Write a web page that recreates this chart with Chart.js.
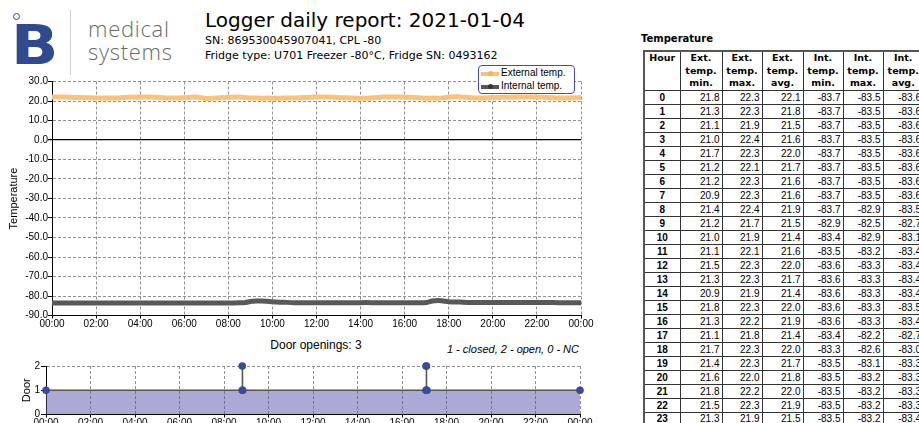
<!DOCTYPE html>
<html>
<head>
<meta charset="utf-8">
<script src="https://cdn.jsdelivr.net/npm/chart.js@4.4.1/dist/chart.umd.min.js"></script>
<style>
html, body { margin: 0; padding: 0; background: #fff; }
body { width: 919px; height: 423px; overflow: hidden; position: relative; font-family: 'Liberation Sans', Arial, sans-serif; }
.abs { position: absolute; white-space: nowrap; line-height: 1; }
#logoB { left: 10.7px; top: 17px; font-family: 'DejaVu Sans', sans-serif; font-weight: bold; font-size: 56px; color: #2f4a8e; transform: scaleX(1.11); transform-origin: left top; }
#logoDot { position: absolute; left: 13px; top: 13px; width: 5px; height: 5px; border: 1.4px solid #2f4a8e; border-radius: 50%; }
#logoSep { position: absolute; left: 70px; top: 10px; width: 1px; height: 65px; background: #cfcfcf; }
.brand { left: 88px; font-family: 'Open Sans', sans-serif; font-weight: 300; font-size: 22px; letter-spacing: 0.7px; color: #6a6a6a; }
#title { left: 205px; top: 10px; font-family: 'DejaVu Sans', sans-serif; font-size: 20px; color: #000; }
.sub { left: 205px; font-family: 'DejaVu Sans', sans-serif; font-size: 11px; color: #000; }
#mainCanvas { position: absolute; left: 0; top: 70px; }
#doorCanvas { position: absolute; left: 0; top: 355px; }
#legend { position: absolute; left: 478px; top: 65px; width: 95px; height: 27px; border: 1.5px solid #4b4ba6; border-radius: 4px; background: #fff; font-size: 10px; z-index: 5; }
.legRow { position: absolute; left: 2px; width: 92px; height: 12px; }
.legLine { position: absolute; left: 0; top: 5px; width: 18px; height: 4px; }
.legDot { position: absolute; left: 7px; top: 4px; width: 5px; height: 5px; border-radius: 50%; }
.legText { position: absolute; left: 20px; top: 0; line-height: 12px; color: #000; white-space: nowrap; }
#doorTitle { left: 0; width: 632px; text-align: center; top: 339px; font-size: 12px; color: #000; }
#doorNote { right: 340px; top: 344px; font-size: 11px; font-style: italic; color: #000; }
#tblCaption { left: 641px; top: 34px; font-family: 'DejaVu Sans', sans-serif; font-weight: bold; font-size: 10px; }
#tbl { position: absolute; left: 643px; top: 50px; width: 280px; border-collapse: collapse; table-layout: fixed; border: 2px solid #555; }
#tbl th { font-family: 'DejaVu Sans', sans-serif; font-weight: bold; font-size: 9.5px; line-height: 12.5px; vertical-align: top; text-align: center; border: 1px solid #333; padding: 0; height: 38px; }
#tbl tr.d { height: 14px; }
#tbl td { font-size: 10px; line-height: 12px; padding: 0 2px 0 0; text-align: right; border: 1px solid #333; }
#tbl td.h { text-align: center; font-weight: bold; padding: 0; }
</style>
</head>
<body>

<div id="logoB" class="abs">B</div>
<div id="logoDot"></div>
<div id="logoSep"></div>
<div class="abs brand" style="top:17px">medical</div>
<div class="abs brand" style="top:40px">systems</div>

<div id="title" class="abs">Logger daily report: 2021-01-04</div>
<div class="abs sub" style="top:35px">SN: 869530045907041, CPL -80</div>
<div class="abs sub" style="top:49.5px">Fridge type: U701 Freezer -80°C, Fridge SN: 0493162</div>

<canvas id="mainCanvas" width="600" height="266"></canvas>
<div id="legend">
  <div class="legRow" style="top:1px"><div class="legLine" style="background:#fcc27a"></div><div class="legDot" style="background:#f5b060"></div><div class="legText">External temp.</div></div>
  <div class="legRow" style="top:14px"><div class="legLine" style="background:#555"></div><div class="legDot" style="background:#333"></div><div class="legText">Internal temp.</div></div>
</div>

<div id="doorTitle" class="abs">Door openings: 3</div>
<div id="doorNote" class="abs">1 - closed, 2 - open, 0 - NC</div>
<canvas id="doorCanvas" width="600" height="80"></canvas>

<div id="tblCaption" class="abs">Temperature</div>
<table id="tbl"></table>

<script>
// Etiquetas del eje de tiempo (cada 2 horas)
const hourLabels = ['00:00', '02:00', '04:00', '06:00', '08:00', '10:00', '12:00',
                    '14:00', '16:00', '18:00', '20:00', '22:00', '00:00'];

// Muestras de temperatura (hora del día)
const sampleHours = [0, 0.5, 1, 1.5, 2, 2.5, 3, 3.5, 4, 4.5, 5, 5.5, 6, 6.5, 7, 7.5, 8, 8.5,
                     8.75, 9, 9.25, 9.5, 9.75,
                     10, 10.5, 11, 11.5, 12, 12.5, 13, 13.5, 14, 14.5, 15, 15.5, 16, 16.5, 17,
                     17.25, 17.5, 17.75,
                     18, 18.5, 19, 19.5, 20, 20.5, 21, 21.5, 22, 22.5, 23, 23.5, 24];
const externalTemp = [22.1, 22.0, 21.8, 21.7, 21.5, 21.6, 21.6, 21.9, 22.0, 22.1, 21.7, 21.6, 21.7, 22.0, 21.3, 21.6, 21.9, 22.0,
                      21.8, 21.5, 21.6, 21.4, 21.5,
                      21.4, 21.5, 21.6, 21.8, 22.0, 22.1, 21.7, 21.6, 21.4, 21.5, 22.0, 22.1, 21.9, 21.8, 21.4,
                      21.5, 21.4, 21.6,
                      22.0, 22.1, 21.7, 21.6, 21.8, 21.9, 22.0, 22.1, 21.9, 21.8, 21.5, 21.6, 21.8];
const internalTemp = [-83.6, -83.6, -83.6, -83.6, -83.6, -83.6, -83.6, -83.6, -83.6, -83.6, -83.6, -83.6, -83.6, -83.6, -83.6, -83.6, -83.6, -83.5,
                      -83.4, -82.8, -82.6, -82.6, -82.7,
                      -83.0, -83.2, -83.4, -83.4, -83.4, -83.4, -83.4, -83.4, -83.4, -83.4, -83.5, -83.5, -83.4, -83.4, -83.3,
                      -82.6, -82.3, -82.6,
                      -82.9, -83.1, -83.3, -83.3, -83.3, -83.3, -83.3, -83.3, -83.3, -83.3, -83.4, -83.4, -83.4];

// Estado de la puerta: 1 - cerrada, 2 - abierta, 0 - NC
const doorHours = [0, 8.82, 8.82, 8.84, 17.08, 17.08, 17.1, 17.1, 17.12, 24];
const doorState = [1, 1, 2, 1, 1, 2, 1, 2, 1, 1];

// Tabla horaria
const tableHours = [0, 1, 2, 3, 4, 5, 6, 7, 8, 9, 10, 11, 12, 13, 14, 15, 16, 17, 18, 19, 20, 21, 22, 23];
const extMin = [21.8, 21.3, 21.1, 21.0, 21.7, 21.2, 21.2, 20.9, 21.4, 21.2, 21.0, 21.1, 21.5, 21.3, 20.9, 21.8, 21.3, 21.1, 21.7, 21.4, 21.6, 21.8, 21.5, 21.3];
const extMax = [22.3, 22.3, 21.9, 22.4, 22.3, 22.1, 22.3, 22.3, 22.4, 21.7, 21.9, 22.1, 22.3, 22.3, 21.9, 22.3, 22.2, 21.8, 22.3, 22.3, 22.0, 22.2, 22.3, 21.9];
const extAvg = [22.1, 21.8, 21.5, 21.6, 22.0, 21.7, 21.6, 21.6, 21.9, 21.5, 21.4, 21.6, 22.0, 21.7, 21.4, 22.0, 21.9, 21.4, 22.0, 21.7, 21.8, 22.0, 21.9, 21.5];
const intMin = [-83.7, -83.7, -83.7, -83.7, -83.7, -83.7, -83.7, -83.7, -83.7, -82.9, -83.4, -83.5, -83.6, -83.6, -83.6, -83.6, -83.6, -83.4, -83.3, -83.5, -83.5, -83.5, -83.5, -83.5];
const intMax = [-83.5, -83.5, -83.5, -83.5, -83.5, -83.5, -83.5, -83.5, -82.9, -82.5, -82.9, -83.2, -83.3, -83.3, -83.3, -83.3, -83.3, -82.2, -82.6, -83.1, -83.2, -83.2, -83.2, -83.2];
const intAvg = [-83.6, -83.6, -83.6, -83.6, -83.6, -83.6, -83.6, -83.6, -83.5, -82.7, -83.1, -83.4, -83.4, -83.4, -83.4, -83.5, -83.4, -82.7, -83.0, -83.3, -83.3, -83.3, -83.3, -83.4];
const tableHeaders = ['Hour', 'Ext.<br>temp.<br>min.', 'Ext.<br>temp.<br>max.', 'Ext.<br>temp.<br>avg.',
                      'Int.<br>temp.<br>min.', 'Int.<br>temp.<br>max.', 'Int.<br>temp.<br>avg.'];
const columnWidths = [36, 42, 40, 41, 40, 40, 41];

const tickFont = { family: "'Liberation Sans', Arial, sans-serif", size: 10 };
const titleFont = { family: "'Liberation Sans', Arial, sans-serif", size: 11 };
const gridGray = '#8f8f8f';

function timeAxis(height) {
    return {
        type: 'linear',
        min: 0,
        max: 24,
        afterFit: function(scale) { scale.height = height; },
        ticks: {
            stepSize: 2,
            autoSkip: false,
            maxRotation: 0,
            padding: 0,
            color: '#000',
            font: tickFont,
            callback: function(value, index) { return hourLabels[index]; }
        },
        grid: { color: gridGray, lineWidth: 1, tickLength: 3, tickColor: '#000' },
        border: { color: '#000', width: 1, dash: [3, 2] }
    };
}

// Gráfica principal de temperaturas
new Chart(document.getElementById('mainCanvas').getContext('2d'), {
    type: 'line',
    data: {
        datasets: [{
            label: 'External temp.',
            data: sampleHours.map((h, i) => ({ x: h, y: externalTemp[i] })),
            borderColor: '#fcc27a',
            borderWidth: 5,
            pointRadius: 0,
            tension: 0.3
        }, {
            label: 'Internal temp.',
            data: sampleHours.map((h, i) => ({ x: h, y: internalTemp[i] })),
            borderColor: '#595959',
            borderWidth: 5,
            pointRadius: 0,
            tension: 0.3
        }]
    },
    options: {
        responsive: false,
        animation: false,
        layout: { padding: { top: 11.5, right: 19, bottom: 0, left: 0 } },
        plugins: { legend: { display: false }, tooltip: { enabled: false } },
        scales: {
            x: timeAxis(20.5),
            y: {
                min: -90,
                max: 30,
                afterFit: function(scale) { scale.width = 52; },
                ticks: {
                    stepSize: 10,
                    padding: 0,
                    color: '#000',
                    font: tickFont,
                    callback: function(value) { return value.toFixed(1); }
                },
                grid: {
                    color: ctx => (ctx.tick && ctx.tick.value === 0) ? '#000' : gridGray,
                    lineWidth: ctx => (ctx.tick && ctx.tick.value === 0) ? 1.3 : 1,
                    tickLength: 4,
                    tickColor: '#000'
                },
                border: {
                    color: '#000',
                    width: 1,
                    dash: ctx => (ctx.tick && ctx.tick.value === 0) ? [] : [3, 2]
                },
                title: {
                    display: true,
                    text: 'Temperature',
                    color: '#000',
                    font: titleFont,
                    padding: { top: 7, bottom: 0 }
                }
            }
        }
    }
});

// Gráfica de aperturas de puerta
new Chart(document.getElementById('doorCanvas').getContext('2d'), {
    type: 'line',
    data: {
        datasets: [{
            label: 'Door',
            data: doorHours.map((h, i) => ({ x: h, y: doorState[i] })),
            borderColor: '#555',
            borderWidth: 1.6,
            backgroundColor: 'rgba(85, 85, 170, 0.5)',
            fill: 'origin',
            pointRadius: 3,
            pointBackgroundColor: '#3a4a9c',
            pointBorderColor: '#3a4a9c',
            tension: 0,
            clip: 6
        }]
    },
    options: {
        responsive: false,
        animation: false,
        layout: { padding: { top: 11, right: 20, bottom: 0, left: 0 } },
        plugins: { legend: { display: false }, tooltip: { enabled: false } },
        scales: {
            x: timeAxis(20.5),
            y: {
                min: 0,
                max: 2,
                afterFit: function(scale) { scale.width = 46; },
                ticks: { stepSize: 1, padding: 1, color: '#000', font: tickFont },
                grid: { color: gridGray, lineWidth: 1, tickLength: 5, tickColor: '#000' },
                border: { color: '#000', width: 1, dash: [3, 2] },
                title: {
                    display: true,
                    text: 'Door',
                    color: '#000',
                    font: titleFont,
                    padding: { top: 20, bottom: 0 }
                }
            }
        }
    }
});

// Tabla de temperaturas por hora
const tbl = document.getElementById('tbl');
const colgroup = document.createElement('colgroup');
columnWidths.forEach(w => {
    const col = document.createElement('col');
    col.style.width = w + 'px';
    colgroup.appendChild(col);
});
tbl.appendChild(colgroup);
const headRow = tbl.insertRow();
tableHeaders.forEach(h => {
    const th = document.createElement('th');
    th.innerHTML = h;
    headRow.appendChild(th);
});
tableHours.forEach((hour, i) => {
    const row = tbl.insertRow();
    row.className = 'd';
    const cells = [hour, extMin[i], extMax[i], extAvg[i], intMin[i], intMax[i], intAvg[i]];
    cells.forEach((v, j) => {
        const td = row.insertCell();
        if (j === 0) {
            td.className = 'h';
            td.textContent = v;
        } else {
            td.textContent = v.toFixed(1);
        }
    });
});
</script>
</body>
</html>
